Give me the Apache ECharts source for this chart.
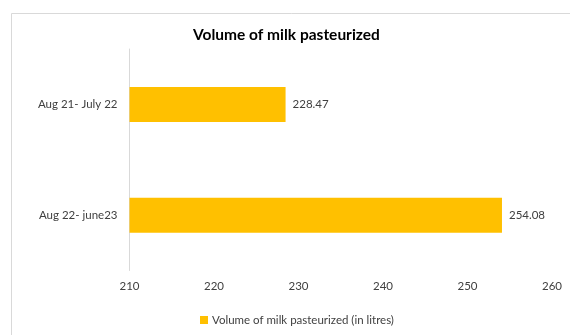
<!DOCTYPE html>
<html>
<head>
<meta charset="utf-8">
<script src="https://cdn.jsdelivr.net/npm/echarts@6/dist/echarts.min.js"></script>
<style>
html,body{margin:0;padding:0;background:#fff;}
#c{width:570px;height:335px;}
</style>
</head>
<body>
<div id="c"></div>
<script>
var categories = ["Aug 21- July 22", "Aug 22- june23"];
var values = [228.47, 254.08];
var seriesName = "Volume of milk pasteurized (in litres)";
var titleText = "Volume of milk pasteurized";
var xMin = 210, xMax = 260, xStep = 10;

var chart = echarts.init(document.getElementById('c'), null, {renderer: 'canvas'});
var FONT = 'Lato';
chart.setOption({
  animation: false,
  backgroundColor: '#fff',
  graphic: [{
    type: 'rect', silent: true,
    shape: {x: 11.5, y: 13.5, width: 570, height: 340},
    style: {fill: 'none', stroke: '#d9d9d9', lineWidth: 1}
  }],
  title: {
    text: titleText, left: 188, top: 22,
    textStyle: {fontFamily: FONT, fontSize: 15.5, fontWeight: 'bold', color: '#000'}
  },
  legend: {
    bottom: 4, left: 195, itemWidth: 8, itemHeight: 8, itemGap: 4,
    icon: 'rect',
    textStyle: {fontFamily: FONT, fontSize: 11.5, color: '#404040', padding: [0,0,0,-1]},
    data: [seriesName]
  },
  grid: {left: 129.5, right: 18, top: 49, bottom: 64.5, containLabel: false},
  xAxis: {
    type: 'value', min: xMin, max: xMax, interval: xStep,
    axisLine: {show: false}, axisTick: {show: false},
    splitLine: {show: false},
    axisLabel: {fontFamily: FONT, fontSize: 11.5, color: '#404040', margin: 10}
  },
  yAxis: {
    type: 'category', data: categories, inverse: true,
    axisLine: {show: true, lineStyle: {color: '#d9d9d9', width: 1}},
    axisTick: {show: false},
    axisLabel: {fontFamily: FONT, fontSize: 11.5, color: '#404040', margin: 12}
  },
  series: [{
    name: seriesName, type: 'bar', data: values, barWidth: 35,
    itemStyle: {color: '#FFC000'},
    label: {show: true, position: 'right', distance: 7, fontFamily: FONT, fontSize: 11.5, color: '#404040'}
  }]
});
</script>
</body>
</html>
